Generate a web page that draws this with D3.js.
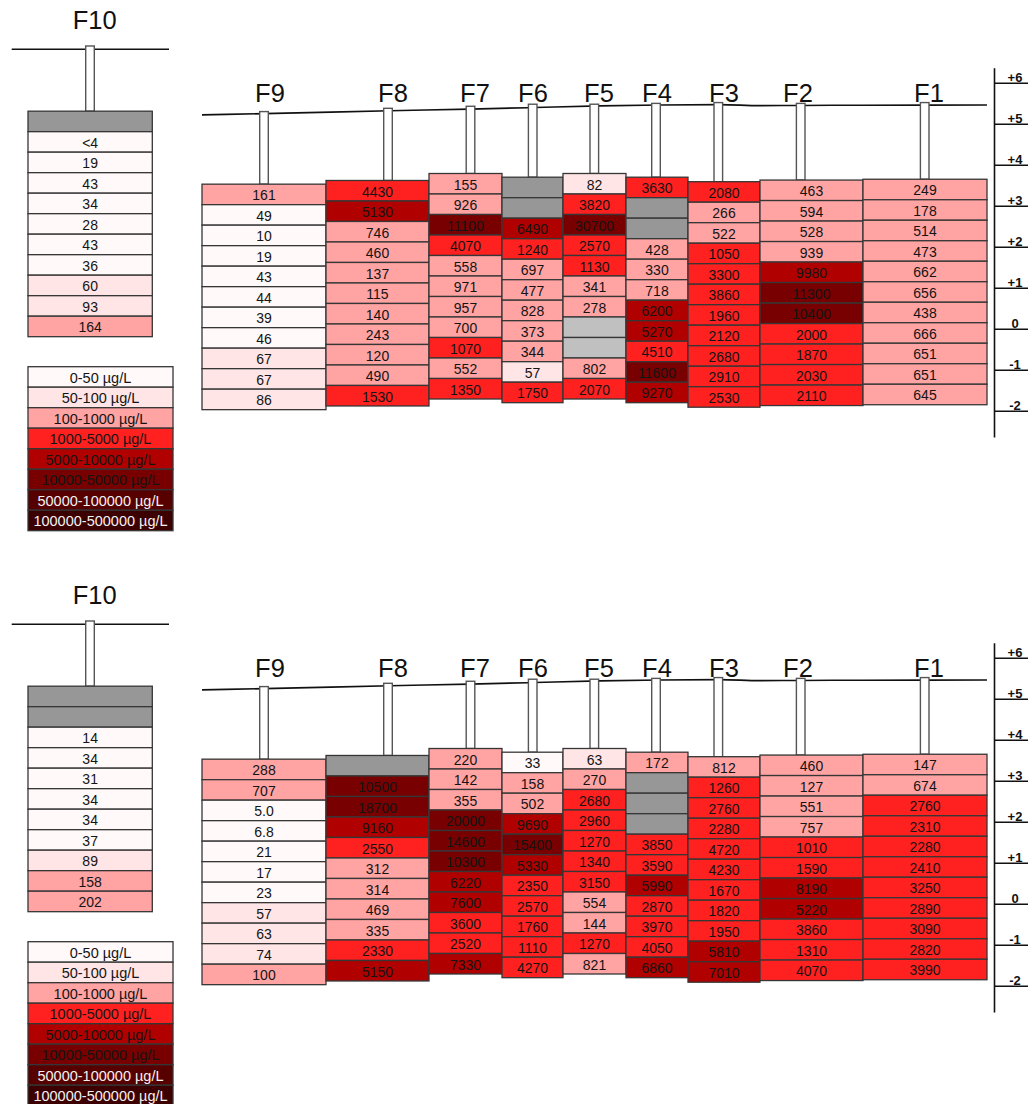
<!DOCTYPE html>
<html><head><meta charset="utf-8">
<script src="https://cdn.jsdelivr.net/npm/d3@7"></script>
<style>body{margin:0;background:#fff}svg{display:block;font-family:Arial,"Liberation Sans",sans-serif}</style>
</head><body><svg id="chart" width="1032" height="1104"></svg>
<script>
// ---------------- DATA ----------------
const NA = null;      // no sample (dark grey)
const LG = "lg";      // dry / not sampled interval (light grey)

const wells = ["F9","F8","F7","F6","F5","F4","F3","F2","F1"];
// elevation (m) of top of sampled interval, top of casing
const screenTopElev = [3.54, 3.63, 3.80, 3.71, 3.80, 3.71, 3.60, 3.64, 3.66];
const casingTopElev = [5.31, 5.39, 5.44, 5.49, 5.49, 5.51, 5.53, 5.51, 5.53];
// ground surface profile along section
const groundDist = [0, 62, 188, 268, 333, 398, 458, 518, 558, 598, 660, 785];
const groundElev = [5.23, 5.26, 5.33, 5.37, 5.41, 5.45, 5.47, 5.48, 5.455, 5.46, 5.465, 5.47];
// F10 (separate well)
const f10GroundElev = 6.83;
const f10CasingTopElev = 6.91;
const f10ScreenTopElev = 5.32;
const sampleInterval = 0.5; // m per sample

const f10Upper = [NA, "<4", "19", "43", "34", "28", "43", "36", "60", "93", "164"];
const f10Lower = [NA, NA, "14", "34", "31", "34", "34", "37", "89", "158", "202"];

const concUpper = [
  ["161","49","10","19","43","44","39","46","67","67","86"],
  ["4430","5130","746","460","137","115","140","243","120","490","1530"],
  ["155","926","11100","4070","558","971","957","700","1070","552","1350"],
  [NA, NA, "6490","1240","697","477","828","373","344","57","1750"],
  ["82","3820","30700","2570","1130","341","278", LG, LG, "802","2070"],
  ["3630", NA, NA, "428","330","718","6200","5270","4510","11600","9270"],
  ["2080","266","522","1050","3300","3860","1960","2120","2680","2910","2530"],
  ["463","594","528","939","9980","11300","10400","2000","1870","2030","2110"],
  ["249","178","514","473","662","656","438","666","651","651","645"]
];
const concLower = [
  ["288","707","5.0","6.8","21","17","23","57","63","74","100"],
  [NA, "10500","18700","9160","2550","312","314","469","335","2330","5150"],
  ["220","142","355","20000","14600","10300","6220","7600","3600","2520","7330"],
  ["33","158","502","9690","15400","5330","2350","2570","1760","1110","4270"],
  ["63","270","2680","2960","1270","1340","3150","554","144","1270","821"],
  ["172", NA, NA, NA, "3850","3590","5990","2870","3970","4050","6860"],
  ["812","1260","2760","2280","4720","4230","1670","1820","1950","5810","7010"],
  ["460","127","551","757","1010","1590","8190","5220","3860","1310","4070"],
  ["147","674","2760","2310","2280","2410","3250","2890","3090","2820","3990"]
];

const classThresholds = [50, 100, 1000, 5000, 10000, 50000, 100000];
const classLabels = ["0-50 µg/L","50-100 µg/L","100-1000 µg/L","1000-5000 µg/L",
  "5000-10000 µg/L","10000-50000 µg/L","50000-100000 µg/L","100000-500000 µg/L"];
const classColors = ["#fff9f9","#ffe5e5","#ffa3a3","#ff2020","#b00000","#780000","#560000","#3c0000"];
const elevTicks = [6, 5, 4, 3, 2, 1, 0, -1, -2];

// ---------------- LAYOUT ----------------
const colEdges = [[0,124],[124,227],[227,300],[300,361],[361,424],[424,486],[486,558],[558,661],[661,785]];
const casingDist = [62, 186, 268.5, 330.7, 392.3, 454, 516.3, 598.7, 722.7];
const labelDist = [68, 191, 273, 331, 397, 455, 522, 596, 727];
const panelOffsets = [0, 575];

const color = d3.scaleThreshold().domain(classThresholds).range(classColors);
const x = d3.scaleLinear().domain([0, 785]).range([202, 987]);
const y = d3.scaleLinear().domain([-2, 6]).range([411.3, 83.3]);
const xF10 = d3.scaleLinear().domain([0, 1]).range([28, 152.3]);

const svg = d3.select("#chart");
const GREY = "#979797", LGREY = "#c0c0c0";

function fillFor(v) {
  if (v === NA) return GREY;
  if (v === LG) return LGREY;
  return color(parseFloat(String(v).replace("<", "")));
}

function drawColumn(g, x0, x1, topElev, values) {
  const rows = values.map((v, k) => ({ v, top: topElev - k * sampleInterval }));
  const cg = g.append("g");
  cg.selectAll("rect").data(rows).join("rect")
    .attr("x", x0).attr("width", x1 - x0)
    .attr("y", d => y(d.top)).attr("height", d => y(d.top - sampleInterval) - y(d.top))
    .attr("fill", d => fillFor(d.v))
    .attr("stroke", "#363636").attr("stroke-width", 1.3);
  cg.selectAll("text").data(rows.filter(d => d.v !== NA && d.v !== LG)).join("text")
    .attr("x", (x0 + x1) / 2)
    .attr("y", d => (y(d.top) + y(d.top - sampleInterval)) / 2 + 1)
    .attr("dy", "0.35em").attr("text-anchor", "middle")
    .attr("font-size", 14).attr("fill", "#141414")
    .text(d => d.v);
}

function drawCasing(g, cx, topElev, botElev) {
  g.append("rect").attr("x", cx - 4.3).attr("width", 8.6)
    .attr("y", y(topElev)).attr("height", y(botElev) - y(topElev))
    .attr("fill", "#fff").attr("stroke", "#555").attr("stroke-width", 1.4);
}

panelOffsets.forEach((off, p) => {
  const g = svg.append("g").attr("transform", `translate(0,${off})`);
  const conc = p === 0 ? concUpper : concLower;
  const f10 = p === 0 ? f10Upper : f10Lower;

  // ---- F10 ----
  g.append("text").attr("x", 94.7).attr("y", 28.5).attr("text-anchor", "middle")
    .attr("font-size", 25.5).attr("fill", "#111").text("F10");
  g.append("line").attr("x1", 11.7).attr("x2", 169)
    .attr("y1", y(f10GroundElev)).attr("y2", y(f10GroundElev))
    .attr("stroke", "#111").attr("stroke-width", 1.3);
  drawCasing(g, 90, f10CasingTopElev, f10ScreenTopElev);
  drawColumn(g, xF10(0), xF10(1), f10ScreenTopElev, f10);

  // ---- Legend ----
  const lg = g.append("g");
  const legTop = 366.7, legH = 20.5;
  lg.selectAll("rect").data(classLabels).join("rect")
    .attr("x", 28).attr("width", 145)
    .attr("y", (d, i) => legTop + i * legH).attr("height", legH)
    .attr("fill", (d, i) => classColors[i])
    .attr("stroke", "#363636").attr("stroke-width", 1.3);
  lg.selectAll("text").data(classLabels).join("text")
    .attr("x", 100.5).attr("y", (d, i) => legTop + i * legH + legH / 2 + 0.5)
    .attr("dy", "0.35em").attr("text-anchor", "middle").attr("font-size", 14.5)
    .attr("fill", (d, i) => i >= 6 ? "#f2f2f2" : "#141414")
    .text(d => d);

  // ---- Ground surface ----
  const line = d3.line().x(d => x(d[0])).y(d => y(d[1])).curve(d3.curveMonotoneX);
  g.append("path").datum(groundDist.map((d, i) => [d, groundElev[i]]))
    .attr("d", line).attr("fill", "none").attr("stroke", "#111").attr("stroke-width", 1.6);

  // ---- Wells ----
  wells.forEach((w, j) => {
    drawCasing(g, x(casingDist[j]), casingTopElev[j], screenTopElev[j]);
    drawColumn(g, x(colEdges[j][0]), x(colEdges[j][1]), screenTopElev[j], conc[j]);
    g.append("text").attr("x", x(labelDist[j])).attr("y", 102)
      .attr("text-anchor", "middle").attr("font-size", 25.5).attr("fill", "#111").text(w);
  });

  // ---- Elevation axis ----
  const ax = g.append("g");
  ax.append("line").attr("x1", 994.5).attr("x2", 994.5).attr("y1", y(6.37)).attr("y2", y(-2.64))
    .attr("stroke", "#111").attr("stroke-width", 1.6);
  ax.selectAll("line.tick").data(elevTicks).join("line").attr("class", "tick")
    .attr("x1", 994.5).attr("x2", 1028).attr("y1", d => y(d)).attr("y2", d => y(d))
    .attr("stroke", "#111").attr("stroke-width", 1.5);
  ax.selectAll("text").data(elevTicks).join("text")
    .attr("x", 1015).attr("y", d => y(d) - 1.8).attr("text-anchor", "middle")
    .attr("font-size", 13).attr("font-weight", "bold").attr("fill", "#111")
    .text(d => d > 0 ? "+" + d : String(d));
});
</script></body></html>
